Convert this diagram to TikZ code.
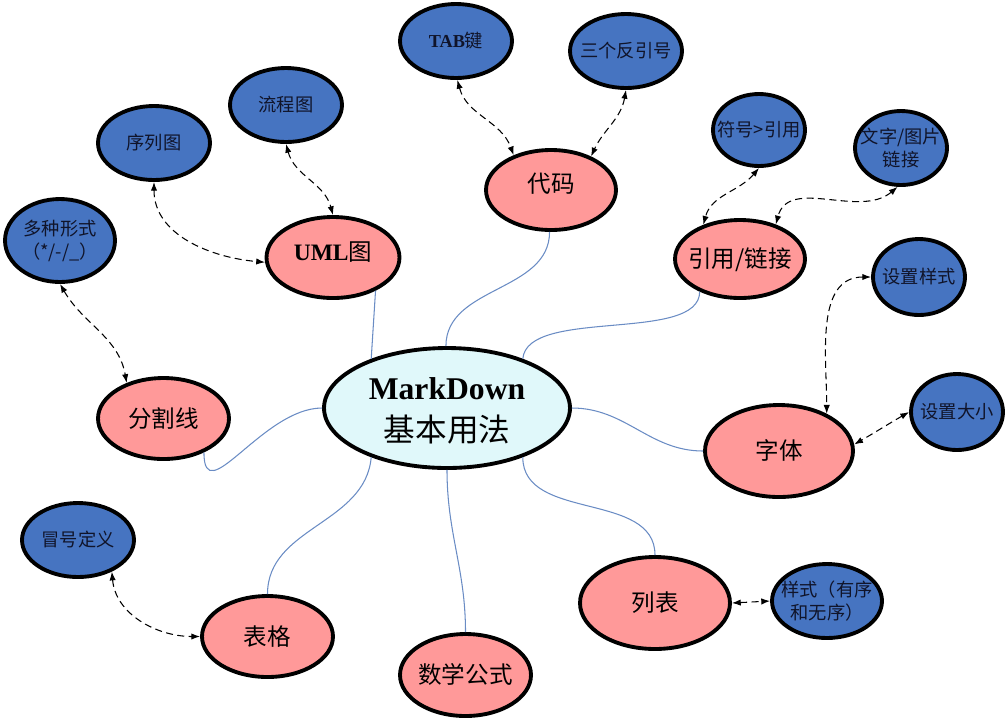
\documentclass[tikz,border=0pt]{standalone}
\usepackage{fontspec}
\setmainfont{Liberation Serif}
\newfontfamily\cjk{Noto Sans CJK SC}
\usetikzlibrary{arrows.meta,shapes.geometric}

\definecolor{bnode}{HTML}{4674C1}
\definecolor{pnode}{HTML}{FF9999}
\definecolor{cnode}{HTML}{E0F8FA}
\definecolor{linkc}{HTML}{6A8CC4}
\definecolor{btext}{HTML}{10142A}

\newcommand\ntxt[1]{\makebox[0pt]{\raisebox{-0.12em}[\height][\depth]{\begin{tabular}{@{}c@{}}#1\end{tabular}}}}

\begin{document}
\begin{tikzpicture}[x=0.02cm,y=0.02cm,
  ell/.style={ellipse, draw=black, line width=2.2pt, inner sep=0pt, outer sep=1.1pt},
  bluenode/.style={ell, fill=bnode, text=btext, font=\cjk\fontsize{10.4}{13}\selectfont},
  pinknode/.style={ell, fill=pnode, text=black, font=\cjk\fontsize{13.4}{16}\selectfont},
  centernode/.style={ell, fill=cnode, text=black, font=\cjk\fontsize{18}{24}\selectfont},
  tree/.style={draw=linkc, line width=0.6pt},
  dlink/.style={draw=black, line width=0.6pt, dash pattern=on 4pt off 2.5pt,
    {Latex[length=5pt,width=3.6pt]}-{Latex[length=5pt,width=3.6pt]}},
]
\useasboundingbox (0,0) rectangle (1007,-718);

% central
\node[centernode, minimum width=4.92cm, minimum height=2.40cm] (md) at (447,-408)
  {\ntxt{{\rmfamily\bfseries MarkDown}\\基本用法}};

% pink nodes
\node[pinknode, minimum width=2.6cm, minimum height=1.6cm] (dm) at (551,-190) {\ntxt{\raisebox{6.5pt}{代码}}};
\node[pinknode, minimum width=2.66cm, minimum height=1.62cm] (uml) at (333,-257.5) {\ntxt{\raisebox{5.5pt}{{\rmfamily\bfseries UML}图}}};
\node[pinknode, minimum width=2.6cm, minimum height=1.56cm] (yy) at (740,-259) {\ntxt{引用/链接}};
\node[pinknode, minimum width=2.62cm, minimum height=1.62cm] (fg) at (163.5,-418.5) {\ntxt{分割线}};
\node[pinknode, minimum width=2.62cm, minimum height=1.62cm] (bg) at (267.5,-636.5) {\ntxt{表格}};
\node[pinknode, minimum width=2.62cm, minimum height=1.64cm] (sx) at (465.5,-675) {\ntxt{数学公式}};
\node[pinknode, minimum width=2.96cm, minimum height=1.84cm] (zt) at (779,-451) {\ntxt{字体}};
\node[pinknode, minimum width=3.0cm, minimum height=1.84cm] (lb) at (655,-603) {\ntxt{列表}};

% blue nodes
\node[bluenode, minimum width=2.24cm, minimum height=1.48cm] (tab) at (456,-41) {\ntxt{{\rmfamily\bfseries TAB}键}};
\node[bluenode, minimum width=2.24cm, minimum height=1.48cm] (san) at (626,-51) {\ntxt{三个反引号}};
\node[bluenode, minimum width=2.24cm, minimum height=1.48cm] (liu) at (286,-105) {\ntxt{流程图}};
\node[bluenode, minimum width=2.24cm, minimum height=1.48cm] (xu) at (154,-143) {\ntxt{序列图}};
\node[bluenode, minimum width=2.2cm, minimum height=1.66cm] (duo) at (60,-240.5) {\ntxt{多种形式\\（*/-/\_）}};
\node[bluenode, minimum width=1.84cm, minimum height=1.44cm] (fh) at (759,-130) {\ntxt{符号>引用}};
\node[bluenode, minimum width=1.84cm, minimum height=1.48cm] (wz) at (901,-148) {\ntxt{文字/图片\\链接}};
\node[bluenode, minimum width=1.84cm, minimum height=1.52cm] (sy) at (919,-277) {\ntxt{设置样式}};
\node[bluenode, minimum width=1.84cm, minimum height=1.52cm] (sd) at (957,-412) {\ntxt{设置大小}};
\node[bluenode, minimum width=2.2cm, minimum height=1.48cm] (ys) at (827,-601) {\ntxt{样式（有序\\和无序）}};
\node[bluenode, minimum width=2.24cm, minimum height=1.48cm] (mz) at (78,-540) {\ntxt{冒号定义}};

% tree connectors
\draw[tree] (uml.-38) -- (md.147);
\draw[tree] (dm.-92) to[out=-90,in=90] (md.91);
\draw[tree] (yy.-141) to[out=-90,in=85,looseness=0.7] (md.33);
\draw[tree] (md.east) to[out=0,in=180] (zt.west);
\draw[tree] (md.-33) to[out=-90,in=90] (lb.north);
\draw[tree] (md.south) to[out=-90,in=90] (sx.north);
\draw[tree] (md.-147) to[out=-95,in=90] (bg.north);
\draw[tree] (md.west) to[out=180,in=-90,looseness=1.2] (fg.-40);

% dashed links
\draw[dlink] (tab.-88) to[out=-75,in=110] (dm.137);
\draw[dlink] (san.-90) to[out=-100,in=65] (dm.40);
\draw[dlink] (liu.-90) to[out=-75,in=105] (uml.north);
\draw[dlink] (xu.-90) to[out=-90,in=175] (uml.184);
\draw[dlink] (duo.-90) to[out=-60,in=100] (fg.136);
\draw[dlink] (mz.-43) to[out=-85,in=180] (bg.west);
\draw[dlink] (fh.-90) to[out=-130,in=75] (yy.137);
\draw[dlink] (wz.-95) to[out=-140,in=75] (yy.44);
\draw[dlink] (sy.west) to[out=180,in=90] (zt.38);
\draw[dlink] (sd.west) to[out=-150,in=30] (zt.5);
\draw[dlink] (lb.east) -- (ys.west);
\end{tikzpicture}
\end{document}
